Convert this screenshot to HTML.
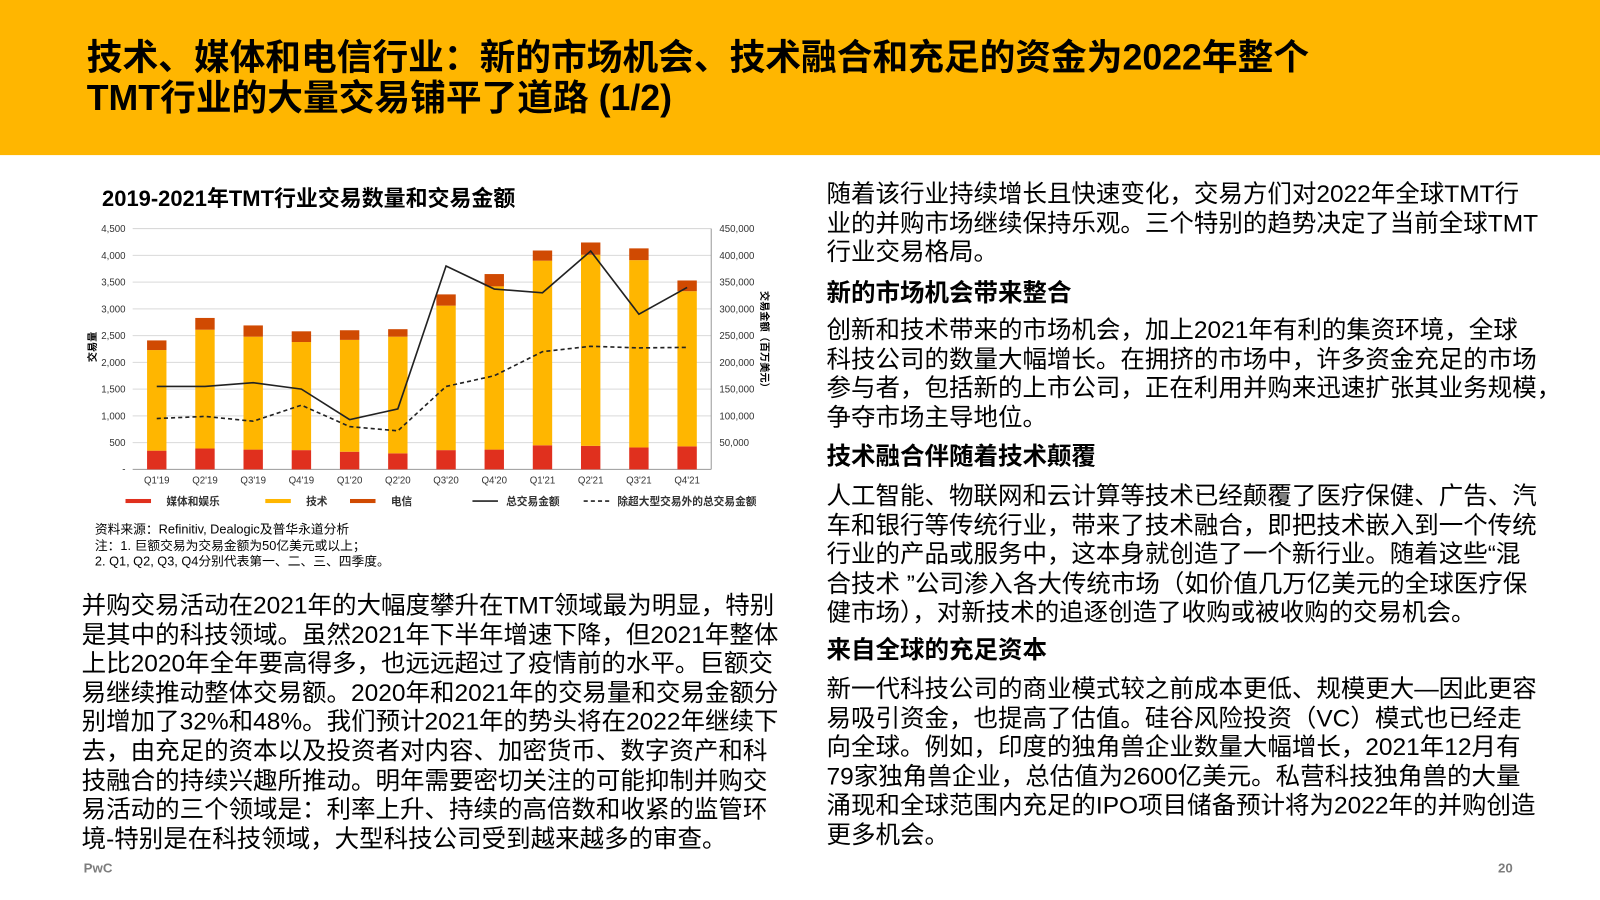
<!DOCTYPE html>
<html><head><meta charset="utf-8">
<style>
body{margin:0;width:1600px;height:900px;background:#fff;overflow:hidden;font-family:"Liberation Sans","Noto Sans CJK SC",sans-serif;color:#000}
#wrap{position:absolute;left:0;top:0;width:1568px;height:882px;transform:scale(1.020408);transform-origin:0 0}
.hdr{position:absolute;left:0;top:0;width:1568px;height:152px;background:#FFB600}
.title{position:absolute;left:85px;top:37px;font-size:35px;font-weight:bold;line-height:40px;white-space:nowrap}
.p{position:absolute;font-size:24px;line-height:28.6px;white-space:nowrap}
.h{font-weight:bold}
.src{position:absolute;left:93px;top:512px;font-size:12.5px;line-height:15.5px;white-space:nowrap}
.ft{position:absolute;font-size:13px;font-weight:bold;color:#7d7d7d}
</style></head><body>
<div id="wrap">
<div class="hdr"></div>
<div class="title">技术、媒体和电信行业：新的市场机会、技术融合和充足的资金为2022年整个<br>TMT行业的大量交易铺平了道路 (1/2)</div>

<div class="p h" style="left:100px;top:181px;font-size:21.5px;line-height:28px">2019-2021年TMT行业交易数量和交易金额</div>

<svg id="chart" style="position:absolute;left:0;top:0" width="800" height="510"></svg>

<div class="src">资料来源：Refinitiv, Dealogic及普华永道分析<br>注：1. 巨额交易为交易金额为50亿美元或以上；<br>2. Q1, Q2, Q3, Q4分别代表第一、二、三、四季度。</div>

<div class="p" style="left:80px;top:580px">并购交易活动在2021年的大幅度攀升在TMT领域最为明显，特别<br>是其中的科技领域。虽然2021年下半年增速下降，但2021年整体<br>上比2020年全年要高得多，也远远超过了疫情前的水平。巨额交<br>易继续推动整体交易额。2020年和2021年的交易量和交易金额分<br>别增加了32%和48%。我们预计2021年的势头将在2022年继续下<br>去，由充足的资本以及投资者对内容、加密货币、数字资产和科<br>技融合的持续兴趣所推动。明年需要密切关注的可能抑制并购交<br>易活动的三个领域是：利率上升、持续的高倍数和收紧的监管环<br>境-特别是在科技领域，大型科技公司受到越来越多的审查。</div>

<div class="p" style="left:810px;top:177px">随着该行业持续增长且快速变化，交易方们对2022年全球TMT行<br>业的并购市场继续保持乐观。三个特别的趋势决定了当前全球TMT<br>行业交易格局。</div>
<div class="p h" style="left:810px;top:274px">新的市场机会带来整合</div>
<div class="p" style="left:810px;top:310px">创新和技术带来的市场机会，加上2021年有利的集资环境，全球<br>科技公司的数量大幅增长。在拥挤的市场中，许多资金充足的市场<br>参与者，包括新的上市公司，正在利用并购来迅速扩张其业务规模，<br>争夺市场主导地位。</div>
<div class="p h" style="left:810px;top:434px">技术融合伴随着技术颠覆</div>
<div class="p" style="left:810px;top:473px">人工智能、物联网和云计算等技术已经颠覆了医疗保健、广告、汽<br>车和银行等传统行业，带来了技术融合，即把技术嵌入到一个传统<br>行业的产品或服务中，这本身就创造了一个新行业。随着这些“混<br>合技术 ”公司渗入各大传统市场（如价值几万亿美元的全球医疗保<br>健市场），对新技术的追逐创造了收购或被收购的交易机会。</div>
<div class="p h" style="left:810px;top:624px">来自全球的充足资本</div>
<div class="p" style="left:810px;top:662px">新一代科技公司的商业模式较之前成本更低、规模更大—因此更容<br>易吸引资金，也提高了估值。硅谷风险投资（VC）模式也已经走<br>向全球。例如，印度的独角兽企业数量大幅增长，2021年12月有<br>79家独角兽企业，总估值为2600亿美元。私营科技独角兽的大量<br>涌现和全球范围内充足的IPO项目储备预计将为2022年的并购创造<br>更多机会。</div>

<div class="ft" style="left:82px;top:843px">PwC</div>
<div class="ft" style="left:1468px;top:843px">20</div>
</div>
<script>
const categories=["Q1'19","Q2'19","Q3'19","Q4'19","Q1'20","Q2'20","Q3'20","Q4'20","Q1'21","Q2'21","Q3'21","Q4'21"];
const mediaCounts=[350,390,370,360,330,300,360,370,450,440,410,430];
const techCounts=[1880,2220,2110,2020,2090,2180,2700,3050,3450,3570,3500,2900];
const telecomCounts=[180,220,210,200,180,140,210,230,190,230,220,200];
const totalValue=[155000,155000,162000,150000,93000,113000,380000,337000,330000,408000,290000,340000];
const exMegaValue=[95000,99000,90000,120000,80000,72000,155000,175000,220000,230000,227000,228000];
const leftTicks=[500,1000,1500,2000,2500,3000,3500,4000,4500];
const rightTicks=[50000,100000,150000,200000,250000,300000,350000,400000,450000];

const NS="http://www.w3.org/2000/svg";
const svg=document.getElementById('chart');
function el(t,a,txt){const e=document.createElementNS(NS,t);for(const k in a)e.setAttribute(k,a[k]);if(txt!==undefined)e.textContent=txt;svg.appendChild(e);return e;}
const X0=130,X1=697,Y0=460,Y1=224;
const yL=v=>Y0-(v/4500)*(Y0-Y1);
const yR=v=>Y0-(v/450000)*(Y0-Y1);
const step=(X1-X0)/categories.length;
const xC=i=>X0+step*(i+0.5);
const bw=19;
const fmt=n=>n.toLocaleString('en-US');

leftTicks.forEach(t=>{
  const g=el('line',{x1:X0,x2:X1,y1:yL(t),y2:yL(t),stroke:'#d9d9d9','stroke-width':1});
  
  
  const l=el('text',{x:X0-7,y:yL(t)+3.5,'font-size':9.5,'text-anchor':'end',fill:'#333'},fmt(t));
  
  
});
el('text',{x:X0-7,y:Y0+3,'font-size':9.5,'text-anchor':'end',fill:'#333'},'-');
rightTicks.forEach(t=>{
  const l=el('text',{x:X1+8,y:yR(t)+3.5,'font-size':9.5,fill:'#333'},fmt(t));
  
  
});
el('line',{x1:X0,x2:X1,y1:Y0,y2:Y0,stroke:'#999'});
el('line',{x1:X1,x2:X1,y1:Y1,y2:Y0,stroke:'#999'});
const yt=el('text',{x:94,y:340,'font-size':10,'font-weight':'bold',transform:'rotate(-90 94 340)','text-anchor':'middle'},'交易量');


const yt2=el('text',{x:746,y:335,'font-size':10,'font-weight':'bold',transform:'rotate(90 746 335)','text-anchor':'middle'},'交易金额（百万美元）');



categories.forEach((c,i)=>{
  const x=xC(i)-bw/2;
  const m=mediaCounts[i],t=techCounts[i],te=telecomCounts[i];
  const b1=el('rect',{x:x,y:yL(m),width:bw,height:Y0-yL(m),fill:'#E0301E'});
  
  
  const b2=el('rect',{x:x,y:yL(m+t),width:bw,height:yL(m)-yL(m+t),fill:'#FFB600'});
  
  
  const b3=el('rect',{x:x,y:yL(m+t+te),width:bw,height:yL(m+t)-yL(m+t+te),fill:'#D04A02'});
  
  
  const lb=el('text',{x:xC(i),y:Y0+14,'font-size':9.5,'text-anchor':'middle',fill:'#333'},c);
  
  
});
const p1=el('polyline',{points:totalValue.map((v,i)=>xC(i)+','+yR(v)).join(' '),fill:'none',stroke:'#222','stroke-width':1.6});


const p2=el('polyline',{points:exMegaValue.map((v,i)=>xC(i)+','+yR(v)).join(' '),fill:'none',stroke:'#222','stroke-width':1.6,'stroke-dasharray':'4,3'});



const leg=[['rect','#E0301E','媒体和娱乐',123],['rect','#FFB600','技术',260],['rect','#D04A02','电信',343],['line','solid','总交易金额',463],['line','dash','除超大型交易外的总交易金额',572]];
leg.forEach(([k,c,t,x])=>{
  if(k==='rect'){el('rect',{x:x,y:489,width:25,height:4,fill:c});}
  else{el('line',{x1:x,x2:x+25,y1:491,y2:491,stroke:'#222','stroke-width':1.6,'stroke-dasharray':c==='dash'?'4,3':'none'});}
  const tx=el('text',{x:x+(k==='rect'?40:33),y:495,'font-size':10.5,'font-weight':'bold',fill:'#333'},t);
  
  
});
</script>
</body></html>
